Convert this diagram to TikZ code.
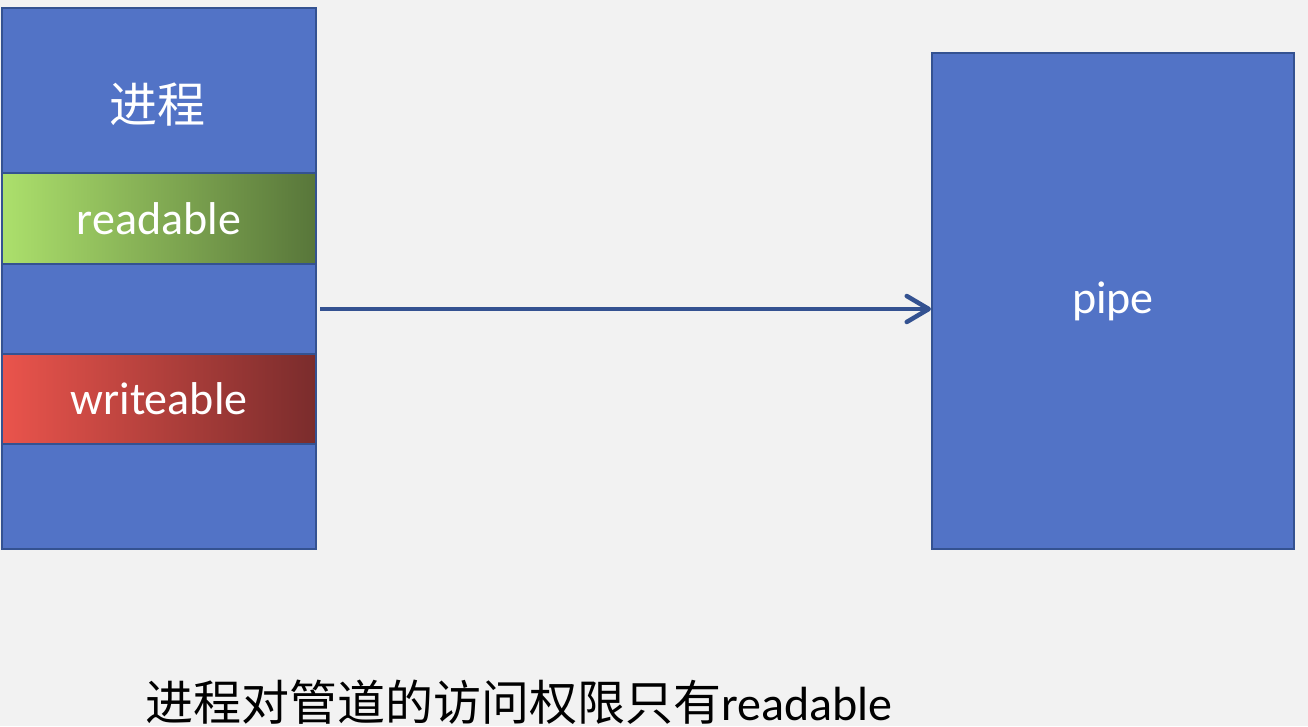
\documentclass[tikz,border=0pt]{standalone}
\usepackage{fontspec}
\setmainfont{Carlito}
\newfontfamily\cjk{Noto Sans CJK SC}
\usetikzlibrary{arrows.meta}
\definecolor{boxblue}{RGB}{82,115,198}
\definecolor{edgeblue}{RGB}{52,82,145}
\definecolor{bggray}{RGB}{242,242,242}
\definecolor{rdlight}{RGB}{172,224,108}
\definecolor{rddark}{RGB}{88,118,58}
\definecolor{wrlight}{RGB}{234,84,76}
\definecolor{wrdark}{RGB}{122,44,44}
\begin{document}
\begin{tikzpicture}[
	x=1pt,y=1pt,
	sect/.style={draw=edgeblue,line width=2pt,fill=boxblue,minimum width=314pt,inner sep=0pt,anchor=north west,text=white,font=\fontsize{46}{50}\selectfont},
	lbl/.style={text=white,inner sep=0pt,font=\fontsize{48}{52}\selectfont},
	link/.style={draw=edgeblue,line width=4.5pt,-{Straight Barb[length=22pt,width=26pt,line cap=round,line join=round]}}
	]
	\fill[bggray] (0,0) rectangle (1308,726);
	\useasboundingbox (0,0) rectangle (1308,726);
	\node[sect,minimum height=165pt] (proc) at (1,719) {};
	\node[lbl] (title) at (157,621) {\cjk 进程};
	\node[sect,minimum height=91pt,left color=rdlight,right color=rddark] (rd) at (1,554) {readable};
	\node[sect,minimum height=90pt] (gap) at (1,463) {};
	\node[sect,minimum height=90pt,left color=wrlight,right color=wrdark] (wr) at (1,373) {writeable};
	\node[sect,minimum height=105pt] (tail) at (1,283) {};
	\node[sect,minimum width=362pt,minimum height=496pt] (pipe) at (931,674) {pipe};
	\draw[link] ([xshift=3pt]gap.east) -- (pipe.west |- gap.east);
	\node[inner sep=0pt,font=\fontsize{48}{52}\selectfont] (note) at (519,24) {{\cjk 进程对管道的访问权限只有}readable};
\end{tikzpicture}
\end{document}
